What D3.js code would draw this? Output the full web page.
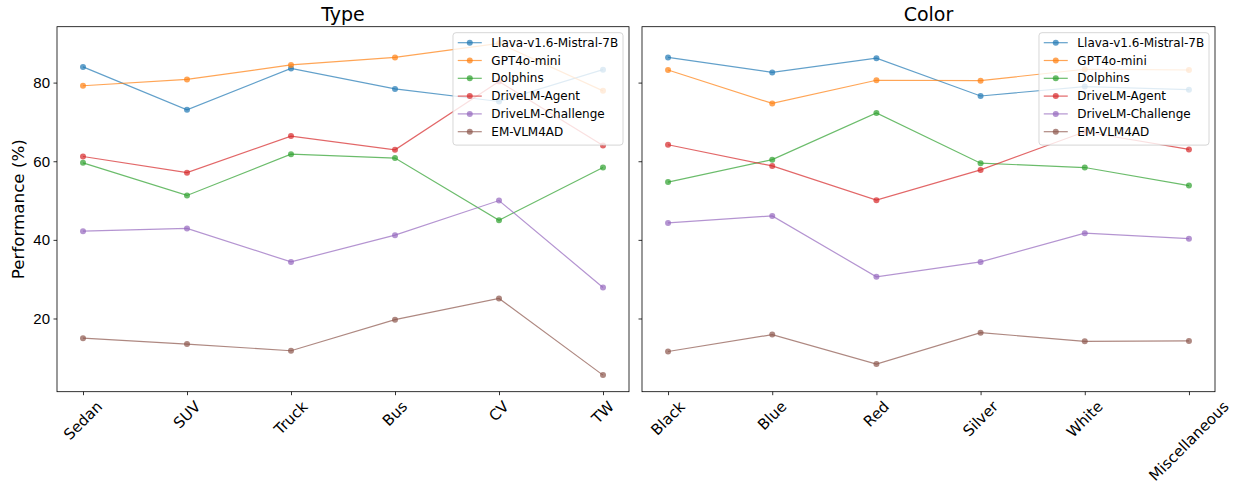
<!DOCTYPE html>
<html>
<head>
<meta charset="utf-8">
<script src="https://cdn.jsdelivr.net/npm/d3@7"></script>
<style>
  body { margin: 0; background: #fff; }
  svg { font-family: "DejaVu Sans", sans-serif; }
</style>
</head>
<body>
<div id="chart"></div>
<script>
// models (legend order)
const models = ["Llava-v1.6-Mistral-7B", "GPT4o-mini", "Dolphins", "DriveLM-Agent", "DriveLM-Challenge", "EM-VLM4AD"];
const colors = ["#1f77b4", "#ff7f0e", "#2ca02c", "#d62728", "#9467bd", "#8c564b"];

// panel 1: vehicle type
const typeCategories = ["Sedan", "SUV", "Truck", "Bus", "CV", "TW"];
const typeLlava     = [84.0, 73.1, 83.6, 78.4, 75.2, 83.3];
const typeGpt       = [79.2, 80.8, 84.5, 86.4, 90.0, 77.9];
const typeDolphins  = [59.6, 51.3, 61.8, 60.8, 45.0, 58.4];
const typeAgent     = [61.2, 57.1, 66.4, 62.9, 80.3, 64.0];
const typeChallenge = [42.2, 42.9, 34.4, 41.2, 50.0, 27.9];
const typeEm        = [15.0, 13.5, 11.8, 19.7, 25.1, 5.6];

// panel 2: vehicle color
const colorCategories = ["Black", "Blue", "Red", "Silver", "White", "Miscellaneous"];
const colorLlava     = [86.4, 82.6, 86.2, 76.6, 79.0, 78.2];
const colorGpt       = [83.2, 74.7, 80.6, 80.5, 83.4, 83.2];
const colorDolphins  = [54.7, 60.4, 72.3, 59.5, 58.4, 53.8];
const colorAgent     = [64.2, 58.8, 50.1, 57.8, 67.5, 63.0];
const colorChallenge = [44.3, 46.1, 30.6, 34.4, 41.7, 40.3];
const colorEm        = [11.6, 15.9, 8.4, 16.4, 14.2, 14.3];

const yTicks = [20, 40, 60, 80];

const panels = [
  { title: "Type", cats: typeCategories,
    series: [typeLlava, typeGpt, typeDolphins, typeAgent, typeChallenge, typeEm],
    left: 57, right: 629, showYLabels: true },
  { title: "Color", cats: colorCategories,
    series: [colorLlava, colorGpt, colorDolphins, colorAgent, colorChallenge, colorEm],
    left: 642, right: 1215, showYLabels: false }
];

const W = 1238, H = 484, plotTop = 26.7, plotBottom = 391.7;
const tickFs = 15;

const svg = d3.select("#chart").append("svg")
  .attr("width", W).attr("height", H);

// shared y, matplotlib style 5% margins
const all = panels.flatMap(p => p.series.flat());
const lo = d3.min(all), hi = d3.max(all), pad = (hi - lo) * 0.05;
const y = d3.scaleLinear().domain([lo - pad, hi + pad]).range([plotBottom, plotTop]);

panels.forEach(p => {
  const n = p.cats.length;
  const x = d3.scaleLinear().domain([-0.05 * (n - 1), (n - 1) * 1.05]).range([p.left, p.right]);
  const g = svg.append("g");

  // y axis
  const yAxis = d3.axisLeft(y).tickValues(yTicks).tickSize(3.5).tickPadding(3.5)
    .tickFormat(p.showYLabels ? d3.format("d") : "");
  const ya = g.append("g").attr("transform", `translate(${p.left},0)`).call(yAxis);
  ya.select(".domain").remove();
  ya.selectAll("text").attr("font-size", tickFs).attr("fill", "#000");
  ya.selectAll("line").attr("stroke", "#000").attr("stroke-width", 0.8);

  // x axis
  const xAxis = d3.axisBottom(x).tickValues(d3.range(n)).tickSize(3.5).tickFormat("");
  const xa = g.append("g").attr("transform", `translate(0,${plotBottom})`).call(xAxis);
  xa.select(".domain").remove();
  xa.selectAll("line").attr("stroke", "#000").attr("stroke-width", 0.8);

  // rotated labels, bbox centred on tick like matplotlib
  p.cats.forEach((c, i) => {
    const t = g.append("text").text(c).attr("font-size", tickFs)
      .attr("text-anchor", "middle").attr("dominant-baseline", "central");
    const w = t.node().getComputedTextLength();
    const h = tickFs * 0.9;
    const bh = (w + h) * Math.SQRT1_2;
    const cx = x(i), cy = plotBottom + 7.5 + bh / 2;
    t.attr("transform", `translate(${cx},${cy}) rotate(-45)`);
  });

  // lines + markers
  const line = d3.line().x((d, i) => x(i)).y(d => y(d));
  p.series.forEach((s, k) => {
    g.append("path").datum(s).attr("d", line)
      .attr("fill", "none").attr("stroke", colors[k])
      .attr("stroke-width", 1.2).attr("stroke-opacity", 0.7);
    g.append("g").selectAll("circle").data(s).join("circle")
      .attr("cx", (d, i) => x(i)).attr("cy", d => y(d)).attr("r", 3)
      .attr("fill", colors[k]).attr("fill-opacity", 0.7);
  });

  // frame
  g.append("rect").attr("x", p.left).attr("y", plotTop)
    .attr("width", p.right - p.left).attr("height", plotBottom - plotTop)
    .attr("fill", "none").attr("stroke", "#000").attr("stroke-width", 0.8);

  // title
  g.append("text").attr("x", (p.left + p.right) / 2).attr("y", plotTop - 6)
    .attr("text-anchor", "middle").attr("font-size", 19).text(p.title);

  // legend
  const fs = 12, rowH = 17.8;
  const leg = g.append("g");
  const texts = models.map(m => leg.append("text").attr("font-size", fs).text(m));
  const maxW = d3.max(texts, t => t.node().getComputedTextLength());
  const bw = 4.8 + 24 + 9.6 + maxW + 4.8;
  const bhh = 4.8 + rowH * models.length + 0.8;
  const bx = p.right - 6 - bw, by = plotTop + 6;
  leg.insert("rect", "text").attr("x", bx).attr("y", by).attr("width", bw).attr("height", bhh)
    .attr("rx", 3).attr("fill", "#fff").attr("fill-opacity", 0.8)
    .attr("stroke", "#ccc").attr("stroke-width", 0.8);
  models.forEach((m, k) => {
    const cy = by + 10 + k * rowH;
    leg.append("line").attr("x1", bx + 4.8).attr("x2", bx + 28.8).attr("y1", cy).attr("y2", cy)
      .attr("stroke", colors[k]).attr("stroke-width", 1.2).attr("stroke-opacity", 0.7);
    leg.append("circle").attr("cx", bx + 16.8).attr("cy", cy).attr("r", 3)
      .attr("fill", colors[k]).attr("fill-opacity", 0.7);
    texts[k].attr("x", bx + 38.4).attr("y", cy).attr("dominant-baseline", "central");
  });
});

// y label
svg.append("text").attr("transform", `translate(18,${(plotTop + plotBottom) / 2}) rotate(-90)`)
  .attr("text-anchor", "middle").attr("dominant-baseline", "central")
  .attr("font-size", 16.7).text("Performance (%)");
</script>
</body>
</html>
